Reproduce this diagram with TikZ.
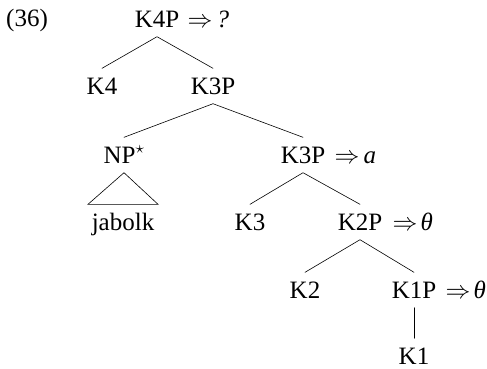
\documentclass[tikz,border=0pt]{standalone}
\usepackage{fontspec}
\setmainfont{Liberation Serif}
\usetikzlibrary{calc}
\begin{document}
\begin{tikzpicture}[x=1pt,y=-1pt,
  every node/.style={font=\fontsize{25}{29}\selectfont},
  cat/.style={anchor=base, inner xsep=0pt, inner ysep=8.5pt, text height=17pt, text depth=1pt},
  leaf/.style={cat, inner ysep=1pt},
  ann/.style={anchor=base west, inner sep=0pt},
  branch/.style={line width=0.6pt, line cap=round}]
\useasboundingbox (0,0) rectangle (487,368);
\node[ann] (ex) at (6,26) {(36)};
\node[cat] (k4p) at (157,27) {K4P};
\node[cat] (k4) at (102,94) {K4};
\node[cat] (k3p) at (213,94) {K3P};
\node[cat] (np) at (124,163) {NP$^\star$};
\node[cat] (k3pb) at (303,163) {K3P};
\node[cat] (jab) at (123,230) {jabolk};
\node[cat] (k3) at (250,230) {K3};
\node[cat] (k2p) at (360,230) {K2P};
\node[cat] (k2) at (305,298) {K2};
\node[cat] (k1p) at (414,298) {K1P};
\node[leaf] (k1) at (414,364) {K1};
\node[ann] (a4) at ($(k4p.base east)+(8,0)$) {$\Rightarrow$\hspace{4pt}\textit{?}};
\node[ann] (a3) at ($(k3pb.base east)+(9,0)$) {$\Rightarrow$\hspace{4pt}\textit{a}};
\node[ann] (a2) at ($(k2p.base east)+(10,0)$) {$\Rightarrow$\hspace{3pt}\textit{θ}};
\node[ann] (a1) at ($(k1p.base east)+(9,0)$) {$\Rightarrow$\hspace{3pt}\textit{θ}};
\draw[branch] (k4.north) -- (k4p.south) -- (k3p.north);
\draw[branch] (np.north) -- (k3p.south) -- (k3pb.north);
\draw[branch] (k3.north) -- (k3pb.south) -- (k2p.north);
\draw[branch] (k2.north) -- (k2p.south) -- (k1p.north);
\draw[branch] (k1p.south) -- ($(k1.north)+(0,-7.5)$);
\draw[branch, line join=miter] (np.south) -- ($(jab.north)+(-35,0)$) -- ($(jab.north)+(35,0)$) -- cycle;
\end{tikzpicture}
\end{document}
